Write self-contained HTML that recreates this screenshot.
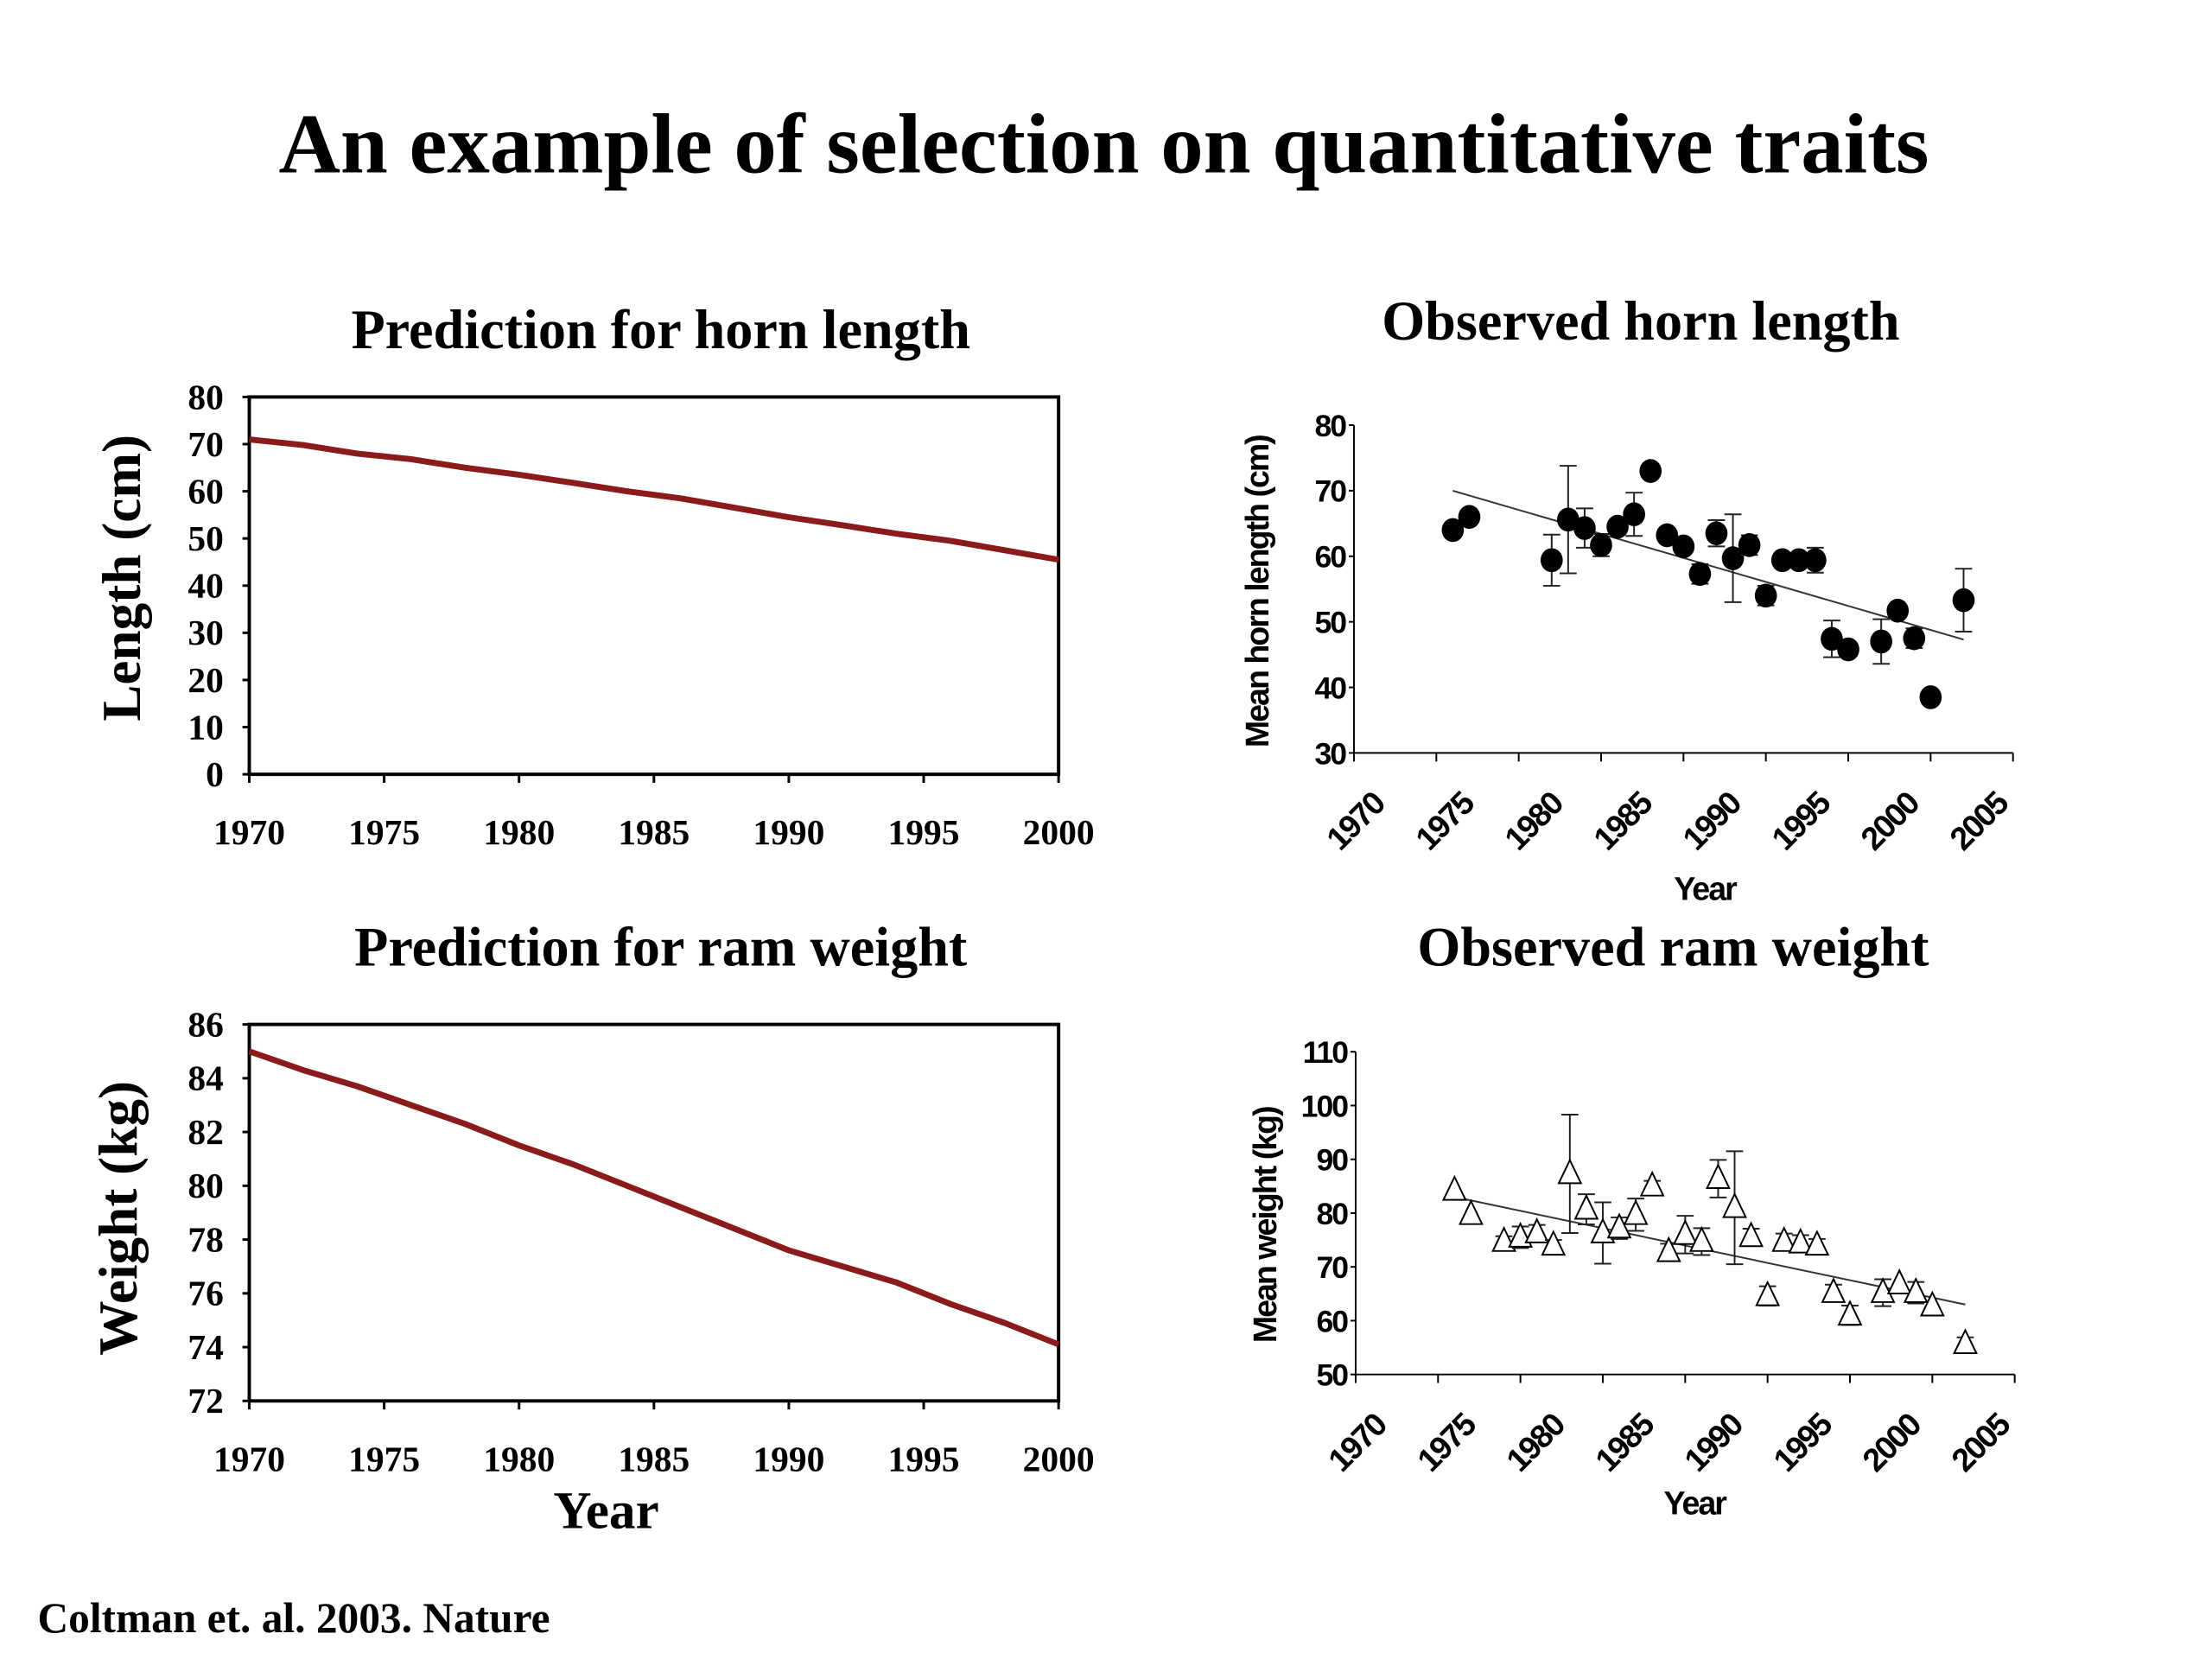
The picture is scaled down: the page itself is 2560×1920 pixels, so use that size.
<!DOCTYPE html>
<html><head><meta charset="utf-8"><style>
html,body{margin:0;padding:0;background:#fff}
svg{display:block}
.serif{font-family:"Liberation Serif",serif;font-weight:bold}
.sans{font-family:"Liberation Sans",sans-serif;font-weight:bold}
</style></head><body>
<svg width="2560" height="1920" viewBox="0 0 2560 1920" xmlns="http://www.w3.org/2000/svg">
<g id="s" transform="scale(0.988)">
<text class="serif" x="1293" y="202" font-size="100" text-anchor="middle">An example of selection on quantitative traits</text>
<text class="serif" x="774" y="408" font-size="65" text-anchor="middle">Prediction for horn length</text>
<text class="serif" x="774" y="1131" font-size="65" text-anchor="middle">Prediction for ram weight</text>
<text class="serif" x="1922" y="398" font-size="65" text-anchor="middle">Observed horn length</text>
<text class="serif" x="1960" y="1131" font-size="65" text-anchor="middle">Observed ram weight</text>
<text class="serif" x="0" y="0" font-size="64" text-anchor="middle" transform="translate(164,677) rotate(-90)">Length (cm)</text>
<text class="serif" x="0" y="0" font-size="64" text-anchor="middle" transform="translate(160,1427) rotate(-90)">Weight (kg)</text>
<text class="serif" x="710" y="1790" font-size="62" text-anchor="middle">Year</text>
<text class="serif" x="44" y="1912" font-size="50">Coltman et. al. 2003. Nature</text>
<text class="sans" x="0" y="0" font-size="38" text-anchor="middle" transform="translate(1486,693) rotate(-90)" style="letter-spacing:-2px">Mean horn length (cm)</text>
<text class="sans" x="0" y="0" font-size="38" text-anchor="middle" transform="translate(1495,1435) rotate(-90)" style="letter-spacing:-2px">Mean weight (kg)</text>
<text class="sans" x="1997" y="1054" font-size="38" text-anchor="middle" style="letter-spacing:-2px">Year</text>
<text class="sans" x="1985" y="1774" font-size="38" text-anchor="middle" style="letter-spacing:-2px">Year</text>
</g>
</svg>
<script>
// ---- prediction data ----
const predYears = [1970,1972,1974,1976,1978,1980,1982,1984,1986,1988,1990,1992,1994,1996,1998,2000];
const hornPred = [71,69.8,68,66.8,65,63.5,61.8,60,58.5,56.5,54.5,52.8,51,49.5,47.5,45.5];
const weightPred = [85,84.3,83.7,83.0,82.3,81.5,80.8,80.0,79.2,78.4,77.6,77.0,76.4,75.6,74.9,74.1];
const predXTicks = ['1970','1975','1980','1985','1990','1995','2000'];
const hornPredYTicks = [0,10,20,30,40,50,60,70,80];
const weightPredYTicks = [72,74,76,78,80,82,84,86];
// ---- observed horn ----
const hornYears = [1976,1977,1982,1983,1984,1985,1986,1987,1988,1989,1990,1991,1992,1993,1994,1995,1996,1997,1998,1999,2000,2002,2003,2004,2005,2007];
const hornObs = [64,66,59.4,65.6,64.3,61.7,64.5,66.4,73,63.2,61.5,57.3,63.5,59.7,61.7,54,59.4,59.4,59.4,47.4,45.8,47,51.7,47.5,38.5,53.3];
const hornErr = [0,0,3.9,8.2,3,1.7,0,3.3,0,0,0,1.5,2,6.7,1.5,1.5,0,0,1.9,2.8,0,3.4,0,1.5,0,4.8];
const hornTrend = [[1976,70],[2007,47.3]];
const obsYTicksHorn = [30,40,50,60,70,80];
// ---- observed weight ----
const wYears = [1976,1977,1979,1980,1981,1982,1983,1984,1985,1986,1987,1988,1989,1990,1991,1992,1993,1994,1995,1996,1997,1998,1999,2000,2002,2003,2004,2005,2007];
const wObs = [84.2,79.7,74.7,75.5,76.3,74,87.3,80.7,76.3,77.2,79.7,85,72.8,76,74.7,86.4,81,75.6,64.6,74.7,74.4,74,65.2,61,65.2,66.8,65.2,62.7,55.7];
const wErr = [0,0,1,2,1.5,1,11,2.8,5.7,2,3,1,1.5,3.5,2.5,3.5,10.5,1.5,1.8,1.5,1.5,1.2,1.5,1.8,2.5,0,2,0,1.2];
const wTrend = [[1976,83],[2007,63]];
const obsYTicksW = [50,60,70,80,90,100,110];
const obsXLabels = ['1970','1975','1980','1985','1990','1995','2000','2005'];

const NS='http://www.w3.org/2000/svg', S=document.getElementById('s');
function mk(tag,attrs,parent){const e=document.createElementNS(NS,tag);for(const k in attrs)e.setAttribute(k,attrs[k]);(parent||S).appendChild(e);return e;}
function lin(d0,d1,r0,r1){return v=>r0+(v-d0)*(r1-r0)/(d1-d0);}

function predChart(name,top,bottom,ymin,ymax,yTicks,vals){
  const x=lin(1970,2000,292,1240), y=lin(ymin,ymax,bottom,top);
  const g=mk('g',{});
  
  
  const box=mk('rect',{x:292,y:top,width:948,height:bottom-top,fill:'none',stroke:'#000','stroke-width':4},g);
  
  
  yTicks.forEach(t=>{
    mk('line',{x1:284,x2:292,y1:y(t),y2:y(t),stroke:'#000','stroke-width':3},g);
    const tx=mk('text',{x:262,y:y(t)+14,'font-size':42,'text-anchor':'end',class:'serif'},g);
    tx.textContent=t;
    
    
  });
  predXTicks.forEach(t=>{
    const xv=x(+t);
    mk('line',{x1:xv,x2:xv,y1:bottom,y2:bottom+10,stroke:'#000','stroke-width':3},g);
    const tx=mk('text',{x:xv,y:bottom+82,'font-size':42,'text-anchor':'middle',class:'serif'},g);
    tx.textContent=t;
    
    
  });
  const p=mk('polyline',{points:predYears.map((yr,i)=>x(yr)+','+y(vals[i])).join(' '),fill:'none',stroke:'#8b1a1a','stroke-width':7,'stroke-linejoin':'round'},g);
  
  
}
predChart('horn-prediction-chart',465,907,0,80,hornPredYTicks,hornPred);
predChart('weight-prediction-chart',1200,1641,72,86,weightPredYTicks,weightPred);

function obsChart(name,ax,ay0,ay1,ymin,ymax,yTicks,years,vals,errs,trend,shape){
  const W=772;
  const x=lin(1970,2010,ax,ax+W), y=lin(ymin,ymax,ay1,ay0);
  const g=mk('g',{});
  
  
  mk('line',{x1:ax,x2:ax,y1:ay0,y2:ay1,stroke:'#000','stroke-width':2},g);
  mk('line',{x1:ax,x2:ax+W,y1:ay1,y2:ay1,stroke:'#000','stroke-width':2},g);
  yTicks.forEach(t=>{
    mk('line',{x1:ax-6,x2:ax,y1:y(t),y2:y(t),stroke:'#000','stroke-width':2},g);
    const tx=mk('text',{x:ax-10,y:y(t)+13,'font-size':36,'text-anchor':'end',class:'sans',style:'letter-spacing:-2px'},g);
    tx.textContent=t;
    
    
  });
  for(let yr=1970;yr<=2010;yr+=5){mk('line',{x1:x(yr),x2:x(yr),y1:ay1,y2:ay1+10,stroke:'#000','stroke-width':2},g);}
  const step=(W-42)/7;
  obsXLabels.forEach((t,i)=>{
    const xv=ax+38+i*step, yv=ay1+62;
    const tx=mk('text',{x:0,y:0,'font-size':38,'text-anchor':'end',class:'sans',transform:`translate(${xv},${yv}) rotate(-45)`,style:'letter-spacing:-2px'},g);
    tx.textContent=t;
    
    
  });
  const tl=mk('line',{x1:x(trend[0][0]),y1:y(trend[0][1]),x2:x(trend[1][0]),y2:y(trend[1][1]),stroke:'#333','stroke-width':2},g);
  
  
  years.forEach((yr,i)=>{
    const cx=x(yr), cy=y(vals[i]);
    if(errs[i]>0){
      const eg=mk('path',{d:`M${cx},${y(vals[i]-errs[i])}V${y(vals[i]+errs[i])}M${cx-10},${y(vals[i]-errs[i])}h20M${cx-10},${y(vals[i]+errs[i])}h20`,stroke:'#222','stroke-width':2,fill:'none'},g);
      
      
    }
    let m;
    if(shape==='dot') m=mk('ellipse',{cx:cx,cy:cy,rx:13,ry:14,fill:'#000'},g);
    else m=mk('path',{d:`M${cx},${cy-16}L${cx+13},${cy+11}L${cx-13},${cy+11}Z`,fill:'#fff',stroke:'#000','stroke-width':2},g);
    
    
  });
}
obsChart('horn-observed-chart',1586,498,882,30,80,obsYTicksHorn,hornYears,hornObs,hornErr,hornTrend,'dot');
obsChart('weight-observed-chart',1588,1232,1610,50,110,obsYTicksW,wYears,wObs,wErr,wTrend,'tri');
</script>
</body></html>
